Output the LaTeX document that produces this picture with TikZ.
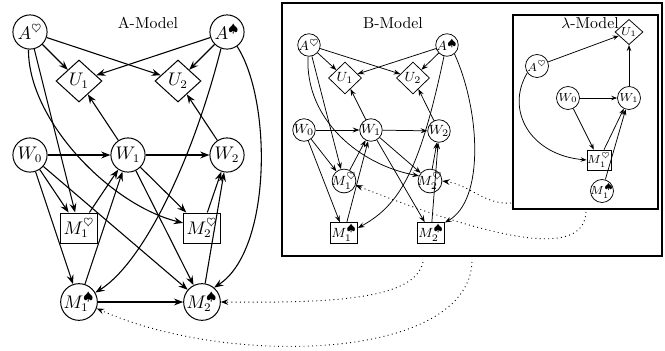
\documentclass[tikz,border=0pt]{standalone}
\usetikzlibrary{shapes.geometric,arrows.meta}
\tikzset{
  acirc/.style={circle, draw, line width=0.6pt, minimum size=20.5pt, inner sep=0pt, font=\fontsize{10.5}{12}\selectfont},
  adiam/.style={diamond, draw, line width=0.6pt, minimum width=27.6pt, minimum height=25.2pt, inner sep=0pt, font=\fontsize{10.5}{12}\selectfont},
  arect/.style={rectangle, draw, line width=0.6pt, minimum width=22.2pt, minimum height=18pt, inner sep=0pt, font=\fontsize{10.5}{12}\selectfont},
  aedge/.style={-{Stealth[length=5.6pt,width=4.2pt,inset=2pt]}, line width=0.65pt},
  bcirc/.style={circle, draw, line width=0.45pt, minimum size=13.5pt, inner sep=-1.5pt, font=\fontsize{8}{9.5}\selectfont},
  bdiam/.style={diamond, draw, line width=0.45pt, minimum width=19.8pt, minimum height=19.2pt, inner sep=0pt, font=\fontsize{8}{9.5}\selectfont},
  brect/.style={rectangle, draw, line width=0.5pt, minimum width=16.2pt, minimum height=12.6pt, inner sep=0pt, font=\fontsize{8}{9.5}\selectfont},
  bedge/.style={-{Stealth[length=4pt,width=3pt,inset=1.4pt]}, line width=0.45pt},
  lcirc/.style={circle, draw, line width=0.45pt, minimum size=13.8pt, inner sep=-1.5pt, font=\fontsize{7}{8.5}\selectfont},
  ldiam/.style={diamond, draw, line width=0.45pt, minimum width=16.8pt, minimum height=15pt, inner sep=0pt, font=\fontsize{7}{8.5}\selectfont},
  lrect/.style={rectangle, draw, line width=0.5pt, minimum width=14.4pt, minimum height=12pt, inner sep=0pt, font=\fontsize{7}{8.5}\selectfont},
  ledge/.style={-{Stealth[length=3.6pt,width=2.7pt,inset=1.3pt]}, line width=0.45pt},
  modlab/.style={font=\fontsize{9.5}{11}\selectfont, inner sep=0pt},
  frame/.style={draw, line width=0.85pt},
  dotarrow/.style={dotted, line width=0.55pt, -{Stealth[length=4.5pt,width=3.4pt,inset=1.6pt]}},
}
\begin{document}
\begin{tikzpicture}[x=0.6pt,y=-0.6pt]
\useasboundingbox (0,0) rectangle (665,350);

% frames
\draw[frame] (282,3) rectangle (662,256);
\draw[frame, line width=0.75pt] (513,15) rectangle (658,209);

% ---------------- A-Model ----------------
\node[modlab] (aLab) at (148,23) {A-Model};
\node[acirc] (aAh) at (30,32) {$A^\heartsuit$};
\node[acirc] (aAs) at (227,32) {$A^\spadesuit$};
\node[adiam] (aU1) at (79,81) {$U_1$};
\node[adiam] (aU2) at (178,81) {$U_2$};
\node[acirc] (aW0) at (30,155) {$W_0$};
\node[acirc] (aW1) at (128,155) {$W_1$};
\node[acirc] (aW2) at (227,155) {$W_2$};
\node[arect] (aMh1) at (79,228) {$M_1^\heartsuit$};
\node[arect] (aMh2) at (202,228) {$M_2^\heartsuit$};
\node[acirc] (aMs1) at (79,302) {$M_1^\spadesuit$};
\node[acirc] (aMs2) at (202,302) {$M_2^\spadesuit$};

\draw[aedge] (aAh) -- (aU1);
\draw[aedge] (aAh) -- (aU2);
\draw[aedge] (aAs) -- (aU1);
\draw[aedge] (aAs) -- (aU2);
\draw[aedge] (aW1) -- (aU1);
\draw[aedge] (aW2) -- (aU2);
\draw[aedge] (aW0) -- (aW1);
\draw[aedge] (aW1) -- (aW2);
\draw[aedge] (aAh) -- (aMh1);
\draw[aedge] (aAh.265) .. controls (28,120) and (110,205) .. (aMh2.165);
\draw[aedge] (aAs.250) .. controls (190,170) and (140,265) .. (aMs1.30);
\draw[aedge] (aAs.-55) .. controls (272,100) and (272,250) .. (aMs2.50);
\draw[aedge] (aW0) -- (aMh1);
\draw[aedge] (aW0) -- (aMs1);
\draw[aedge] (aW0) -- (aMs2);
\draw[aedge] (aW1) -- (aMh2);
\draw[aedge] (aW1) -- (aMs2);
\draw[aedge] (aMh1) -- (aW1);
\draw[aedge] (aMs1) -- (aW1);
\draw[aedge] (aMh2) -- (aW2);
\draw[aedge] (aMs2) -- (aW2);
\draw[aedge] (aMs1) -- (aMs2);

% ---------------- B-Model ----------------
\node[modlab] (bLab) at (393,23) {B-Model};
\node[bcirc] (bAh) at (309,45) {$A^\heartsuit$};
\node[bcirc] (bAs) at (447,45) {$A^\spadesuit$};
\node[bdiam] (bU1) at (345,78) {$U_1$};
\node[bdiam] (bU2) at (413,78) {$U_2$};
\node[bcirc] (bW0) at (304,130) {$W_0$};
\node[bcirc] (bW1) at (371,130) {$W_1$};
\node[bcirc] (bW2) at (439,131) {$W_2$};
\node[bcirc] (bMh1) at (344,181) {$M_1^\heartsuit$};
\node[bcirc] (bMh2) at (430,181) {$M_2^\heartsuit$};
\node[brect] (bMs1) at (344,233) {$M_1^\spadesuit$};
\node[brect] (bMs2) at (431,233) {$M_2^\spadesuit$};

\draw[bedge] (bAh) -- (bU1);
\draw[bedge] (bAh) -- (bU2);
\draw[bedge] (bAs) -- (bU1);
\draw[bedge] (bAs) -- (bU2);
\draw[bedge] (bW1) -- (bU1);
\draw[bedge] (bW2) -- (bU2);
\draw[bedge] (bW0) -- (bW1);
\draw[bedge] (bW1) -- (bW2);
\draw[bedge] (bAh) -- (bMh1);
\draw[bedge] (bAh.265) .. controls (305,120) and (360,165) .. (bMh2.155);
\draw[bedge] (bAs.255) .. controls (420,170) and (400,205) .. (bMs1.20);
\draw[bedge] (bAs.-50) .. controls (480,110) and (485,200) .. (bMs2.37);
\draw[bedge] (bW0) -- (bMh1);
\draw[bedge] (bW0) -- (bMs1);
\draw[bedge] (bW1) -- (bMh2);
\draw[bedge] (bW1) -- (bMs2);
\draw[bedge] (bMh1) -- (bW1);
\draw[bedge] (bMs1) -- (bW1);
\draw[bedge] (bMh2) -- (bW2);
\draw[bedge] (bMs2) -- (bW2);

% ---------------- lambda-Model ----------------
\node[modlab] (lLab) at (590,23) {$\lambda$-Model};
\node[ldiam] (lU1) at (629,32) {$U_1$};
\node[lcirc] (lAh) at (537,66) {$A^\heartsuit$};
\node[lcirc] (lW0) at (568,98) {$W_0$};
\node[lcirc] (lW1) at (629,98) {$W_1$};
\node[lrect] (lMh1) at (599,160) {$M_1^\heartsuit$};
\node[lcirc] (lMs1) at (602,191) {$M_1^\spadesuit$};

\draw[ledge] (lAh) -- (lU1);
\draw[ledge] (lW1) -- (lU1);
\draw[ledge] (lW0) -- (lW1);
\draw[ledge] (lW0) -- (lMh1);
\draw[ledge] (lAh.215) .. controls (505,110) and (530,155) .. (lMh1.west);
\draw[ledge] (lMh1) -- (lW1);
\draw[ledge] (lMs1) -- (lW1);

% ---------------- dotted correspondences ----------------
\coordinate (d1s) at (423,262);
\coordinate (d2s) at (472,262);
\coordinate (d3s) at (511,203);
\coordinate (d4s) at (586,212);
\draw[dotarrow] (d1s) .. controls (415,300) and (330,303) .. (aMs2.east);
\draw[dotarrow] (d2s) .. controls (468,360) and (230,368) .. (aMs1.-20);
\draw[dotarrow] (d3s) .. controls (485,205) and (470,185) .. (bMh2.east);
\draw[dotarrow] (d4s) .. controls (584,252) and (520,250) .. (bMh1.-20);
\end{tikzpicture}
\end{document}
